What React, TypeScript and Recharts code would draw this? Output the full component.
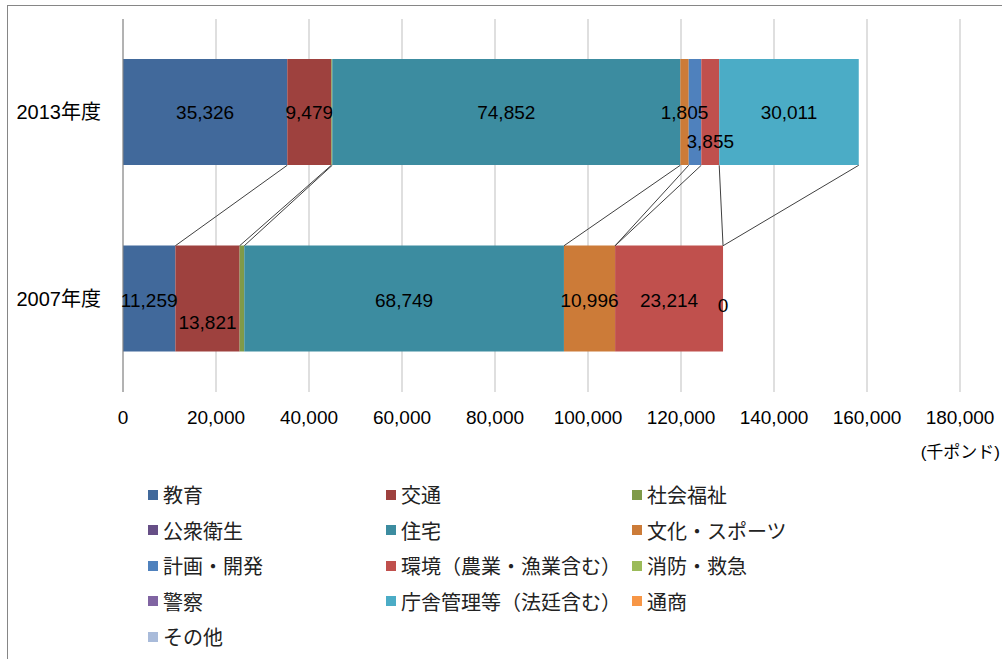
import React from "react";
import {
  BarChart,
  Bar,
  XAxis,
  YAxis,
  CartesianGrid,
  Legend,
  LabelList,
  ReferenceLine,
  ReferenceDot,
} from "recharts";

const FONT = '"Liberation Sans", "Noto Sans CJK JP", sans-serif';
const BAR_SIZE = 106;

// categories, top to bottom
const years = ["2013年度", "2007年度"];

const seriesNames = [
  "教育",
  "交通",
  "社会福祉",
  "公衆衛生",
  "住宅",
  "文化・スポーツ",
  "計画・開発",
  "環境（農業・漁業含む）",
  "消防・救急",
  "警察",
  "庁舎管理等（法廷含む）",
  "通商",
  "その他",
];

const values2013 = [35326, 9479, 200, 0, 74852, 1805, 2700, 3855, 0, 0, 30011, 0, 0];
const values2007 = [11259, 13821, 1000, 0, 68749, 10996, 0, 23214, 0, 0, 0, 0, 0];

// which segments carry a data label (1 = shown)
const shown2013 = [1, 1, 0, 0, 1, 1, 0, 1, 0, 0, 1, 0, 0];
const shown2007 = [1, 1, 0, 0, 1, 1, 0, 1, 0, 0, 1, 0, 0];

const xTicks = [0, 20000, 40000, 60000, 80000, 100000, 120000, 140000, 160000, 180000];

const colors = [
  "#41699B",
  "#9E413E",
  "#7F9A48",
  "#664F86",
  "#3C8CA0",
  "#CC7B38",
  "#4F81BD",
  "#C0504D",
  "#9BBB59",
  "#8064A2",
  "#4BACC6",
  "#F79646",
  "#A9BBDA",
];

// manual label nudges (category index -> series index -> dy)
const LABEL_DY: Record<number, Record<number, number>> = {
  0: { 7: 29 },
  1: { 0: 2, 1: 24, 4: 2, 5: 2, 7: 2, 10: 7 },
};

const data = years.map((year, ci) => {
  const row: Record<string, string | number> = { year };
  const vals = ci === 0 ? values2013 : values2007;
  vals.forEach((v, si) => {
    row[`s${si}`] = v;
  });
  return row;
});

const cumulative = (vals: number[]) => {
  let sum = 0;
  return vals.map((v) => (sum += v));
};
const cum2013 = cumulative(values2013);
const cum2007 = cumulative(values2007);

const fmt = (v: number) => Number(v).toLocaleString("en-US");

const labelText = (cx: number, cy: number, value: number) => (
  <text
    x={cx}
    y={cy}
    textAnchor="middle"
    dominantBaseline="central"
    fontSize={19}
    fontFamily={FONT}
    fill="#000"
  >
    {fmt(value)}
  </text>
);

const makeLabel = (si: number) => (props: any) => {
  const { x, y, width, height, value, index } = props;
  const shown = index === 0 ? shown2013 : shown2007;
  if (!shown[si] || Number(value) === 0) return null;
  const dy = LABEL_DY[index]?.[si] ?? 0;
  return labelText(Number(x) + Number(width) / 2, Number(y) + Number(height) / 2 + dy, value);
};

// zero-width segments still carrying a label ("0")
const zeroLabels = years.flatMap((year, ci) => {
  const vals = ci === 0 ? values2013 : values2007;
  const shown = ci === 0 ? shown2013 : shown2007;
  const cum = ci === 0 ? cum2013 : cum2007;
  return vals
    .map((v, si) => ({ v, si }))
    .filter(({ v, si }) => v === 0 && shown[si])
    .map(({ si }) => ({ year, ci, si, x: cum[si] }));
});

// Excel style series line: bottom edge of the upper bar to top edge of the lower bar
const SeriesLine = (props: any) => {
  const { x1, y1, x2, y2 } = props;
  return (
    <line
      x1={x1}
      y1={y1 + BAR_SIZE / 2}
      x2={x2}
      y2={y2 - BAR_SIZE / 2}
      stroke="#404040"
      strokeWidth={1}
    />
  );
};

const renderLegend = (props: any) => {
  const items = [...(props.payload || [])].sort(
    (a: any, b: any) => seriesNames.indexOf(a.value) - seriesNames.indexOf(b.value)
  );
  return (
    <div
      style={{
        display: "grid",
        gridTemplateColumns: "238px 246px 240px",
        gridAutoRows: "35.5px",
        fontFamily: FONT,
        fontSize: 20,
        color: "#222",
      }}
    >
      {items.map((it: any) => (
        <div key={it.value} style={{ display: "flex", alignItems: "center" }}>
          <span
            style={{
              width: 10,
              height: 10,
              background: it.color,
              display: "inline-block",
              marginRight: 5,
            }}
          />
          <span>{it.value}</span>
        </div>
      ))}
    </div>
  );
};

export default function App() {
  return (
    <div
      style={{
        position: "absolute",
        left: 0,
        top: 0,
        width: 1002,
        height: 659,
        background: "#fff",
        overflow: "hidden",
      }}
    >
      <div
        style={{
          position: "absolute",
          left: 7,
          top: 5,
          width: 1100,
          height: 700,
          borderTop: "1px solid #868686",
          borderLeft: "1px solid #868686",
        }}
      />
      <BarChart
        layout="vertical"
        width={1002}
        height={659}
        data={data}
        margin={{ top: 19, right: 42, bottom: 197, left: 0 }}
        barSize={BAR_SIZE}
      >
        <CartesianGrid horizontal={false} stroke="#BFBFBF" />
        <XAxis
          type="number"
          domain={[0, 180000]}
          ticks={xTicks}
          interval={0}
          tickFormatter={fmt}
          axisLine={false}
          tickLine={false}
          tickMargin={13}
          height={70}
          tick={{ fontSize: 19, fill: "#000", fontFamily: FONT }}
          label={{
            content: (p: any) => {
              const vb = p.viewBox || {};
              return (
                <text
                  x={vb.x + vb.width + 40}
                  y={vb.y + 66}
                  textAnchor="end"
                  fontSize={17}
                  fontFamily={FONT}
                  fill="#000"
                >
                  (千ポンド)
                </text>
              );
            },
          }}
        />
        <YAxis
          type="category"
          dataKey="year"
          width={123}
          axisLine={{ stroke: "#868686" }}
          tickLine={false}
          tickMargin={16}
          tick={{ fontSize: 20, fill: "#000", fontFamily: FONT }}
        />
        {seriesNames.map((name, si) => (
          <Bar
            key={name}
            dataKey={`s${si}`}
            name={name}
            stackId="a"
            fill={colors[si]}
            isAnimationActive={false}
          >
            <LabelList dataKey={`s${si}`} content={makeLabel(si)} />
          </Bar>
        ))}
        {seriesNames.map((name, si) =>
          values2013[si] > 0 || values2007[si] > 0 ? (
            <ReferenceLine
              key={`line-${name}`}
              ifOverflow="visible"
              segment={[
                { x: cum2013[si], y: years[0] },
                { x: cum2007[si], y: years[1] },
              ]}
              shape={SeriesLine}
            />
          ) : null
        )}
        {zeroLabels.map((z) => (
          <ReferenceDot
            key={`zero-${z.ci}-${z.si}`}
            x={z.x}
            y={z.year}
            r={0}
            ifOverflow="visible"
            shape={() => <g />}
            label={{
              content: (p: any) => {
                const vb = p.viewBox || {};
                const dy = LABEL_DY[z.ci]?.[z.si] ?? 0;
                return labelText(
                  (vb.x ?? 0) + (vb.width ?? 0) / 2,
                  (vb.y ?? 0) + (vb.height ?? 0) / 2 + dy,
                  0
                );
              },
            }}
          />
        ))}
        <Legend
          layout="horizontal"
          verticalAlign="middle"
          align="center"
          content={renderLegend}
          wrapperStyle={{ left: 148, top: 477, width: 760, height: 180 }}
        />
      </BarChart>
    </div>
  );
}
